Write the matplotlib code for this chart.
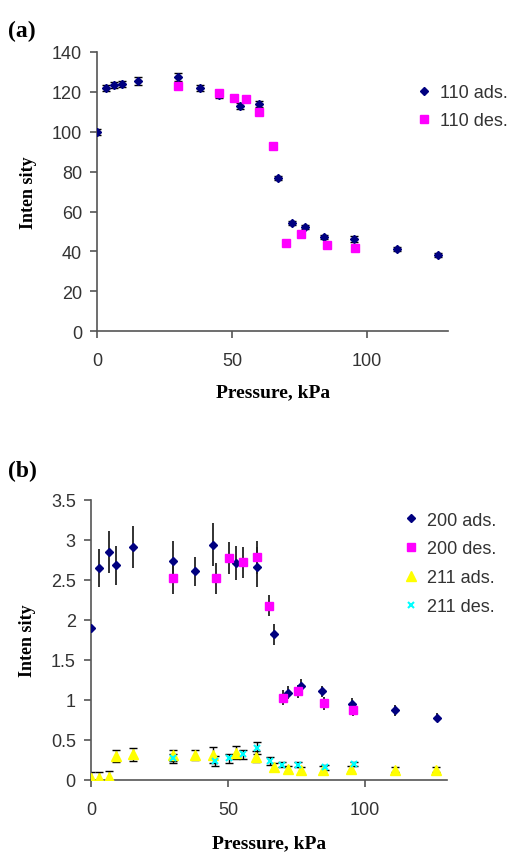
import matplotlib.pyplot as plt
import numpy as np

# panel (a): 110 reflection
p110_ads = [0, 3, 6, 9, 15, 30, 38, 45, 53, 60, 67, 72, 77, 84, 95, 111, 126.5]
i110_ads = [100, 122, 123.5, 124, 125.5, 127.5, 122, 118.5, 113, 114, 77, 54, 52, 47, 46, 41, 38]
e110_ads = [1.5, 1.5, 1.5, 1.5, 2, 2, 1.5, 1.5, 1.5, 1.5, 1, 1, 1, 1, 1.5, 1, 1]
p110_des = [30, 45, 50.5, 55, 60, 65, 70, 75.4, 85, 95.7]
i110_des = [122.7, 119.5, 117, 116.5, 110, 93, 44, 48.5, 43, 41.5]
e110_des = [1, 1, 1, 1, 1, 1, 1, 1, 1, 1]

# panel (b): 200 and 211 reflections
p200_ads = [0, 3, 6.6, 9.1, 15.2, 30, 38, 44.6, 52.8, 60.5, 66.9, 72, 76.8, 84.4, 95.3, 111, 126.4]
i200_ads = [1.9, 2.65, 2.85, 2.68, 2.91, 2.74, 2.61, 2.94, 2.71, 2.66, 1.82, 1.09, 1.18, 1.11, 0.95, 0.87, 0.78]
e200_ads = [0, 0.24, 0.26, 0.24, 0.26, 0.25, 0.18, 0.27, 0.21, 0.25, 0.13, 0.08, 0.08, 0.07, 0.08, 0.07, 0.06]
p200_des = [30, 45.5, 50.4, 55.4, 60.7, 65.1, 70.2, 75.5, 85.1, 95.6]
i200_des = [2.53, 2.52, 2.77, 2.72, 2.78, 2.18, 1.03, 1.11, 0.96, 0.88]
e200_des = [0.2, 0.19, 0.2, 0.19, 0.2, 0.13, 0.09, 0.08, 0.08, 0.08]
p211_ads = [0, 3, 6.5, 9, 15.2, 30, 38, 44.6, 52.9, 60.3, 67, 72, 76.8, 84.6, 95, 111, 126]
i211_ads = [0.03, 0.03, 0.04, 0.30, 0.32, 0.31, 0.31, 0.31, 0.34, 0.29, 0.16, 0.14, 0.12, 0.13, 0.14, 0.13, 0.13]
e211_ads = [0.07, 0.07, 0.07, 0.08, 0.08, 0.07, 0.06, 0.1, 0.08, 0.07, 0.05, 0.04, 0.04, 0.04, 0.04, 0.03, 0.03]
p211_des = [30, 45.4, 50.5, 55.4, 60.8, 65.5, 69.8, 75.6, 85.6, 96]
i211_des = [0.27, 0.24, 0.27, 0.32, 0.40, 0.24, 0.19, 0.19, 0.16, 0.20]
e211_des = [0.06, 0.06, 0.06, 0.06, 0.07, 0.05, 0.03, 0.03, 0.03, 0.03]

navy = '#000080'
mag = '#ff00ff'
yel = '#ffff00'
cya = '#00ffff'
grey = '#333333'

plt.rcParams['font.family'] = ['Liberation Sans', 'DejaVu Sans']

fig = plt.figure(figsize=(5.13, 8.54), dpi=100)
axa = fig.add_axes([0.19, 0.611, 0.683, 0.327])
axb = fig.add_axes([0.1775, 0.0855, 0.6935, 0.328])


def style(ax, lp):
    for s in ['top', 'right']:
        ax.spines[s].set_visible(False)
    for s in ['left', 'bottom']:
        ax.spines[s].set_color('#555555')
        ax.spines[s].set_linewidth(1.2)
    ax.tick_params(direction='out', length=5, width=1.2, color='#555555',
                   labelsize=13, labelcolor=grey, pad=6)
    ax.tick_params(axis='x', pad=10)
    ax.set_xlim(0, 130)
    ax.set_xticks([0, 50, 100])
    ax.set_xlabel('Pressure, kPa', family='Liberation Serif', fontweight='bold',
                  fontsize=14, labelpad=lp)
    ax.set_ylabel('Inten sity', family='Liberation Serif', fontweight='bold',
                  fontsize=13, labelpad=11)


# (a)
axa.errorbar(p110_ads, i110_ads, yerr=e110_ads, fmt='none', ecolor='black',
             elinewidth=1, capsize=3, zorder=2)
axa.errorbar(p110_des, i110_des, yerr=e110_des, fmt='none', ecolor='black',
             elinewidth=1, capsize=3, zorder=2)
h1, = axa.plot(p110_ads, i110_ads, 'D', color=navy, ms=4, ls='none', zorder=3, label='110 ads.')
h2, = axa.plot(p110_des, i110_des, 's', color=mag, ms=6, ls='none', zorder=3, label='110 des.')
axa.set_ylim(0, 140)
axa.set_yticks(range(0, 141, 20))
style(axa, 10)
axa.legend(handles=[h1, h2], loc='upper left', bbox_to_anchor=(0.912, 0.884),
           frameon=False, fontsize=13, handlelength=0.8, handletextpad=0.45,
           labelspacing=0.6, borderpad=0, borderaxespad=0, labelcolor=grey)

# (b)
axb.errorbar(p200_ads, i200_ads, yerr=e200_ads, fmt='none', ecolor='#222222',
             elinewidth=1.3, capsize=0, zorder=2)
axb.errorbar(p200_des, i200_des, yerr=e200_des, fmt='none', ecolor='#222222',
             elinewidth=1.3, capsize=0, zorder=2)
axb.errorbar(p211_ads, i211_ads, yerr=e211_ads, fmt='none', ecolor='black',
             elinewidth=1, capsize=3, zorder=2)
axb.errorbar(p211_des, i211_des, yerr=e211_des, fmt='none', ecolor='black',
             elinewidth=1, capsize=3, zorder=2)
g1, = axb.plot(p200_ads, i200_ads, 'D', color=navy, ms=4, ls='none', zorder=3, label='200 ads.')
g2, = axb.plot(p200_des, i200_des, 's', color=mag, ms=6, ls='none', zorder=3, label='200 des.')
g3, = axb.plot(p211_ads, i211_ads, '^', color=yel, ms=7, ls='none', zorder=3, label='211 ads.')
g4, = axb.plot(p211_des, i211_des, 'x', color=cya, ms=4, mew=1.5, ls='none', zorder=4, label='211 des.')
axb.set_ylim(0, 3.5)
axb.set_yticks(np.arange(0, 3.51, 0.5))
axb.set_yticklabels(['0', '0.5', '1', '1.5', '2', '2.5', '3', '3.5'])
style(axb, 12)
axb.legend(handles=[g1, g2, g3, g4], loc='upper left', bbox_to_anchor=(0.88, 0.958),
           frameon=False, fontsize=13, handlelength=0.8, handletextpad=0.45,
           labelspacing=0.65, borderpad=0, borderaxespad=0, labelcolor=grey)

fig.text(0.015, 0.963, '(a)', family='Liberation Serif', fontweight='bold',
         fontsize=17, va='center')
fig.text(0.015, 0.448, '(b)', family='Liberation Serif', fontweight='bold',
         fontsize=17, va='center')

plt.savefig('out.png', dpi=100)
